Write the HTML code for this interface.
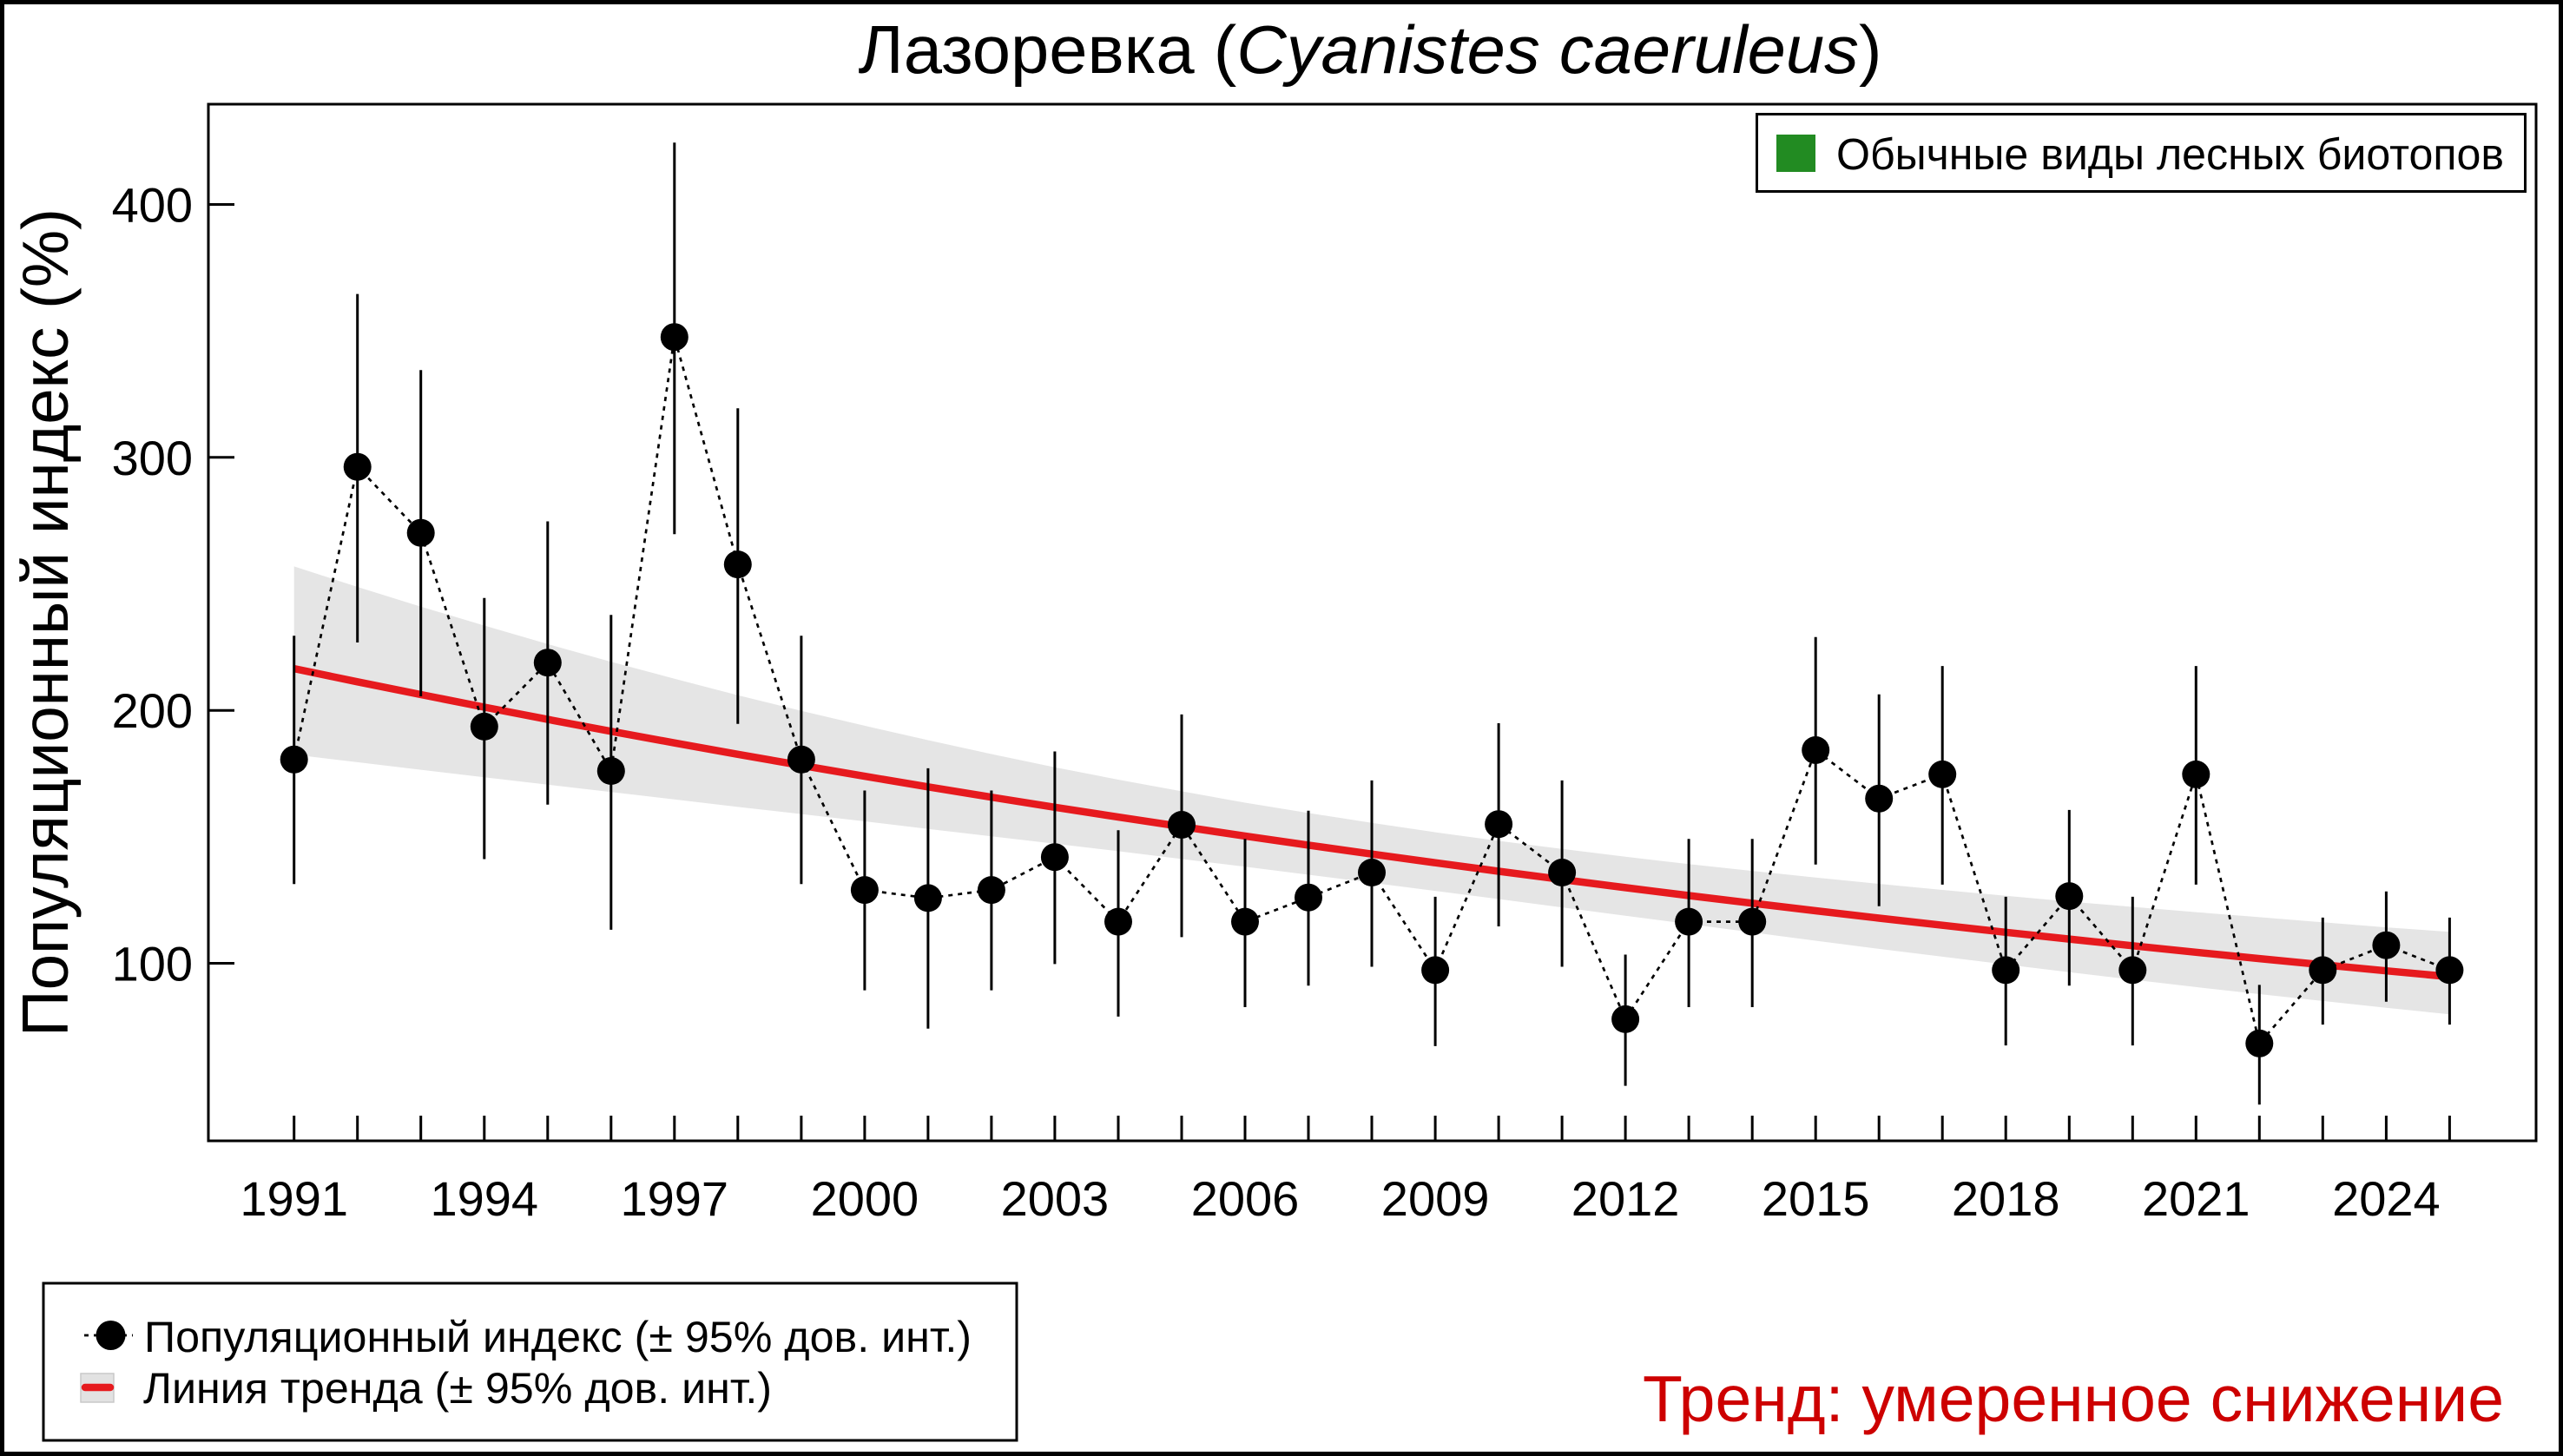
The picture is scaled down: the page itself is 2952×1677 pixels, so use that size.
<!DOCTYPE html>
<html>
<head>
<meta charset="utf-8">
<style>
html,body{margin:0;padding:0;background:#fff;}
svg{display:block;}
text{font-family:"Liberation Sans","DejaVu Sans",sans-serif;fill:#000;}
</style>
</head>
<body>
<svg width="2952" height="1677" viewBox="0 0 2952 1677" xmlns="http://www.w3.org/2000/svg">
<rect x="0" y="0" width="2952" height="1677" fill="#fff"/>
<rect x="2.5" y="2.5" width="2947" height="1672" fill="none" stroke="#000" stroke-width="5"/>

<!-- Title -->
<text x="1578" y="84" text-anchor="middle" font-size="78" textLength="1179" lengthAdjust="spacingAndGlyphs">Лазоревка (<tspan font-style="italic">Cyanistes caeruleus</tspan>)</text>

<!-- Y label -->
<text transform="translate(78,717) rotate(-90)" text-anchor="middle" font-size="75" textLength="954" lengthAdjust="spacingAndGlyphs">Популяционный индекс (%)</text>

<!-- CI band -->
<polygon fill="#e5e5e5" points="338.7,652.4 411.7,676.0 484.7,698.7 557.8,720.5 630.8,741.8 703.8,762.2 776.8,781.7 849.8,800.7 922.9,818.7 995.9,835.9 1068.9,852.5 1141.9,868.5 1214.9,883.7 1288.0,898.0 1361.0,911.4 1434.0,924.5 1507.0,936.4 1580.0,947.8 1653.1,958.6 1726.1,968.5 1799.1,977.8 1872.1,986.8 1945.1,995.3 2018.2,1003.1 2091.2,1010.7 2164.2,1018.0 2237.2,1025.0 2310.2,1031.7 2383.3,1038.4 2456.3,1044.5 2529.3,1050.6 2602.3,1056.4 2675.3,1062.3 2748.4,1068.1 2821.4,1073.3 2821.4,1168.3 2748.4,1160.7 2675.3,1152.9 2602.3,1145.0 2529.3,1136.9 2456.3,1128.4 2383.3,1119.7 2310.2,1110.9 2237.2,1101.9 2164.2,1092.9 2091.2,1083.5 2018.2,1073.9 1945.1,1064.3 1872.1,1054.7 1799.1,1045.1 1726.1,1035.5 1653.1,1026.1 1580.0,1016.8 1507.0,1007.5 1434.0,998.2 1361.0,989.4 1288.0,980.4 1214.9,971.7 1141.9,963.2 1068.9,954.8 995.9,946.0 922.9,937.6 849.8,929.4 776.8,920.7 703.8,912.2 630.8,903.8 557.8,895.3 484.7,886.6 411.7,877.9 338.7,869.1"/>

<!-- Trend line -->
<polyline fill="none" stroke="#e61a1e" stroke-width="8.5" stroke-linejoin="round" points="338.7,770.1 411.7,785.3 484.7,800.0 557.8,814.5 630.8,828.6 703.8,842.3 776.8,855.7 849.8,868.8 922.9,881.6 995.9,894.1 1068.9,906.3 1141.9,918.2 1214.9,929.8 1288.0,941.1 1361.0,952.1 1434.0,962.9 1507.0,973.4 1580.0,983.7 1653.1,993.7 1726.1,1003.5 1799.1,1013.0 1872.1,1022.4 1945.1,1031.5 2018.2,1040.3 2091.2,1049.0 2164.2,1057.5 2237.2,1065.7 2310.2,1073.8 2383.3,1081.6 2456.3,1089.3 2529.3,1096.8 2602.3,1104.1 2675.3,1111.2 2748.4,1118.2 2821.4,1125.0"/>

<!-- Dotted connecting line -->
<polyline fill="none" stroke="#000" stroke-width="2.7" stroke-dasharray="5 6" points="338.7,874.8 411.7,537.7 484.7,613.7 557.8,836.9 630.8,763.2 703.8,888.0 776.8,388.2 849.8,650.1 922.9,874.8 995.9,1025.1 1068.9,1034.4 1141.9,1025.1 1214.9,987.2 1288.0,1061.6 1361.0,950.0 1434.0,1061.6 1507.0,1033.7 1580.0,1005.0 1653.1,1117.4 1726.1,949.2 1799.1,1005.0 1872.1,1173.9 1945.1,1061.6 2018.2,1061.6 2091.2,864.0 2164.2,919.8 2237.2,891.9 2310.2,1117.4 2383.3,1032.1 2456.3,1117.4 2529.3,891.9 2602.3,1201.8 2675.3,1117.4 2748.4,1088.7 2821.4,1117.4"/>

<!-- Error bars -->
<g stroke="#000" stroke-width="3">
<line x1="338.7" y1="732.2" x2="338.7" y2="1018.2"/>
<line x1="411.7" y1="338.6" x2="411.7" y2="740.0"/>
<line x1="484.7" y1="426.2" x2="484.7" y2="802.0"/>
<line x1="557.8" y1="688.8" x2="557.8" y2="989.5"/>
<line x1="630.8" y1="600.5" x2="630.8" y2="926.8"/>
<line x1="703.8" y1="708.2" x2="703.8" y2="1070.9"/>
<line x1="776.8" y1="164.2" x2="776.8" y2="615.2"/>
<line x1="849.8" y1="470.3" x2="849.8" y2="833.7"/>
<line x1="922.9" y1="732.2" x2="922.9" y2="1018.2"/>
<line x1="995.9" y1="910.5" x2="995.9" y2="1140.6"/>
<line x1="1068.9" y1="884.9" x2="1068.9" y2="1184.8"/>
<line x1="1141.9" y1="910.5" x2="1141.9" y2="1140.6"/>
<line x1="1214.9" y1="865.5" x2="1214.9" y2="1110.4"/>
<line x1="1288.0" y1="956.2" x2="1288.0" y2="1170.9"/>
<line x1="1361.0" y1="822.9" x2="1361.0" y2="1079.4"/>
<line x1="1434.0" y1="966.2" x2="1434.0" y2="1160.0"/>
<line x1="1507.0" y1="933.7" x2="1507.0" y2="1135.2"/>
<line x1="1580.0" y1="898.9" x2="1580.0" y2="1113.5"/>
<line x1="1653.1" y1="1032.9" x2="1653.1" y2="1204.9"/>
<line x1="1726.1" y1="833.0" x2="1726.1" y2="1067.0"/>
<line x1="1799.1" y1="898.9" x2="1799.1" y2="1113.5"/>
<line x1="1872.1" y1="1099.5" x2="1872.1" y2="1250.6"/>
<line x1="1945.1" y1="966.2" x2="1945.1" y2="1160.0"/>
<line x1="2018.2" y1="966.2" x2="2018.2" y2="1160.0"/>
<line x1="2091.2" y1="733.8" x2="2091.2" y2="995.7"/>
<line x1="2164.2" y1="799.7" x2="2164.2" y2="1043.7"/>
<line x1="2237.2" y1="767.1" x2="2237.2" y2="1018.9"/>
<line x1="2310.2" y1="1032.9" x2="2310.2" y2="1204.1"/>
<line x1="2383.3" y1="932.9" x2="2383.3" y2="1135.2"/>
<line x1="2456.3" y1="1032.9" x2="2456.3" y2="1204.1"/>
<line x1="2529.3" y1="767.1" x2="2529.3" y2="1018.9"/>
<line x1="2602.3" y1="1134.4" x2="2602.3" y2="1272.3"/>
<line x1="2675.3" y1="1056.9" x2="2675.3" y2="1180.1"/>
<line x1="2748.4" y1="1026.7" x2="2748.4" y2="1153.8"/>
<line x1="2821.4" y1="1056.9" x2="2821.4" y2="1180.1"/>
</g>

<!-- Points -->
<g fill="#000">
<circle cx="338.7" cy="874.8" r="16"/>
<circle cx="411.7" cy="537.7" r="16"/>
<circle cx="484.7" cy="613.7" r="16"/>
<circle cx="557.8" cy="836.9" r="16"/>
<circle cx="630.8" cy="763.2" r="16"/>
<circle cx="703.8" cy="888.0" r="16"/>
<circle cx="776.8" cy="388.2" r="16"/>
<circle cx="849.8" cy="650.1" r="16"/>
<circle cx="922.9" cy="874.8" r="16"/>
<circle cx="995.9" cy="1025.1" r="16"/>
<circle cx="1068.9" cy="1034.4" r="16"/>
<circle cx="1141.9" cy="1025.1" r="16"/>
<circle cx="1214.9" cy="987.2" r="16"/>
<circle cx="1288.0" cy="1061.6" r="16"/>
<circle cx="1361.0" cy="950.0" r="16"/>
<circle cx="1434.0" cy="1061.6" r="16"/>
<circle cx="1507.0" cy="1033.7" r="16"/>
<circle cx="1580.0" cy="1005.0" r="16"/>
<circle cx="1653.1" cy="1117.4" r="16"/>
<circle cx="1726.1" cy="949.2" r="16"/>
<circle cx="1799.1" cy="1005.0" r="16"/>
<circle cx="1872.1" cy="1173.9" r="16"/>
<circle cx="1945.1" cy="1061.6" r="16"/>
<circle cx="2018.2" cy="1061.6" r="16"/>
<circle cx="2091.2" cy="864.0" r="16"/>
<circle cx="2164.2" cy="919.8" r="16"/>
<circle cx="2237.2" cy="891.9" r="16"/>
<circle cx="2310.2" cy="1117.4" r="16"/>
<circle cx="2383.3" cy="1032.1" r="16"/>
<circle cx="2456.3" cy="1117.4" r="16"/>
<circle cx="2529.3" cy="891.9" r="16"/>
<circle cx="2602.3" cy="1201.8" r="16"/>
<circle cx="2675.3" cy="1117.4" r="16"/>
<circle cx="2748.4" cy="1088.7" r="16"/>
<circle cx="2821.4" cy="1117.4" r="16"/>
</g>

<!-- Plot frame -->
<rect x="240" y="120" width="2681" height="1194" fill="none" stroke="#000" stroke-width="3"/>

<!-- Y ticks -->
<g stroke="#000" stroke-width="3">
<line x1="240" y1="1109.5" x2="270" y2="1109.5"/>
<line x1="240" y1="818.2" x2="270" y2="818.2"/>
<line x1="240" y1="526.8" x2="270" y2="526.8"/>
<line x1="240" y1="235.5" x2="270" y2="235.5"/>
</g>
<g font-size="56" text-anchor="end">
<text x="222" y="1129.5">100</text>
<text x="222" y="838.2">200</text>
<text x="222" y="546.8">300</text>
<text x="222" y="255.5">400</text>
</g>

<!-- X ticks -->
<g stroke="#000" stroke-width="3">
<line x1="338.7" y1="1314" x2="338.7" y2="1285"/>
<line x1="411.7" y1="1314" x2="411.7" y2="1285"/>
<line x1="484.7" y1="1314" x2="484.7" y2="1285"/>
<line x1="557.8" y1="1314" x2="557.8" y2="1285"/>
<line x1="630.8" y1="1314" x2="630.8" y2="1285"/>
<line x1="703.8" y1="1314" x2="703.8" y2="1285"/>
<line x1="776.8" y1="1314" x2="776.8" y2="1285"/>
<line x1="849.8" y1="1314" x2="849.8" y2="1285"/>
<line x1="922.9" y1="1314" x2="922.9" y2="1285"/>
<line x1="995.9" y1="1314" x2="995.9" y2="1285"/>
<line x1="1068.9" y1="1314" x2="1068.9" y2="1285"/>
<line x1="1141.9" y1="1314" x2="1141.9" y2="1285"/>
<line x1="1214.9" y1="1314" x2="1214.9" y2="1285"/>
<line x1="1288.0" y1="1314" x2="1288.0" y2="1285"/>
<line x1="1361.0" y1="1314" x2="1361.0" y2="1285"/>
<line x1="1434.0" y1="1314" x2="1434.0" y2="1285"/>
<line x1="1507.0" y1="1314" x2="1507.0" y2="1285"/>
<line x1="1580.0" y1="1314" x2="1580.0" y2="1285"/>
<line x1="1653.1" y1="1314" x2="1653.1" y2="1285"/>
<line x1="1726.1" y1="1314" x2="1726.1" y2="1285"/>
<line x1="1799.1" y1="1314" x2="1799.1" y2="1285"/>
<line x1="1872.1" y1="1314" x2="1872.1" y2="1285"/>
<line x1="1945.1" y1="1314" x2="1945.1" y2="1285"/>
<line x1="2018.2" y1="1314" x2="2018.2" y2="1285"/>
<line x1="2091.2" y1="1314" x2="2091.2" y2="1285"/>
<line x1="2164.2" y1="1314" x2="2164.2" y2="1285"/>
<line x1="2237.2" y1="1314" x2="2237.2" y2="1285"/>
<line x1="2310.2" y1="1314" x2="2310.2" y2="1285"/>
<line x1="2383.3" y1="1314" x2="2383.3" y2="1285"/>
<line x1="2456.3" y1="1314" x2="2456.3" y2="1285"/>
<line x1="2529.3" y1="1314" x2="2529.3" y2="1285"/>
<line x1="2602.3" y1="1314" x2="2602.3" y2="1285"/>
<line x1="2675.3" y1="1314" x2="2675.3" y2="1285"/>
<line x1="2748.4" y1="1314" x2="2748.4" y2="1285"/>
<line x1="2821.4" y1="1314" x2="2821.4" y2="1285"/>
</g>
<g font-size="56" text-anchor="middle">
<text x="338.7" y="1400">1991</text>
<text x="557.8" y="1400">1994</text>
<text x="776.8" y="1400">1997</text>
<text x="995.9" y="1400">2000</text>
<text x="1214.9" y="1400">2003</text>
<text x="1434.0" y="1400">2006</text>
<text x="1653.1" y="1400">2009</text>
<text x="1872.1" y="1400">2012</text>
<text x="2091.2" y="1400">2015</text>
<text x="2310.2" y="1400">2018</text>
<text x="2529.3" y="1400">2021</text>
<text x="2748.4" y="1400">2024</text>
</g>

<!-- Top-right legend -->
<rect x="2023.5" y="131.5" width="885" height="89" fill="#fff" stroke="#000" stroke-width="3"/>
<rect x="2046" y="155" width="45" height="43" fill="#228B22"/>
<text x="2115" y="195" font-size="51" textLength="769" lengthAdjust="spacingAndGlyphs">Обычные виды лесных биотопов</text>

<!-- Bottom-left legend -->
<rect x="50" y="1478" width="1121" height="181" fill="#fff" stroke="#000" stroke-width="3"/>
<line x1="97" y1="1538" x2="153" y2="1538" stroke="#000" stroke-width="2.7" stroke-dasharray="5 6"/>
<circle cx="127.5" cy="1538" r="17" fill="#000"/>
<text x="166" y="1557" font-size="50" textLength="953" lengthAdjust="spacingAndGlyphs">Популяционный индекс (± 95% дов. инт.)</text>
<rect x="93" y="1582" width="38" height="33" fill="#e2e2e2" stroke="#c9c9c9" stroke-width="1.5"/>
<line x1="98" y1="1598" x2="127" y2="1598" stroke="#e61a1e" stroke-width="8.5" stroke-linecap="round"/>
<text x="165" y="1616" font-size="50" textLength="724" lengthAdjust="spacingAndGlyphs">Линия тренда (± 95% дов. инт.)</text>

<!-- Trend text -->
<text x="1892" y="1637" font-size="75" textLength="992" lengthAdjust="spacingAndGlyphs" style="fill:#CD0000">Тренд: умеренное снижение</text>
</svg>
</body>
</html>
